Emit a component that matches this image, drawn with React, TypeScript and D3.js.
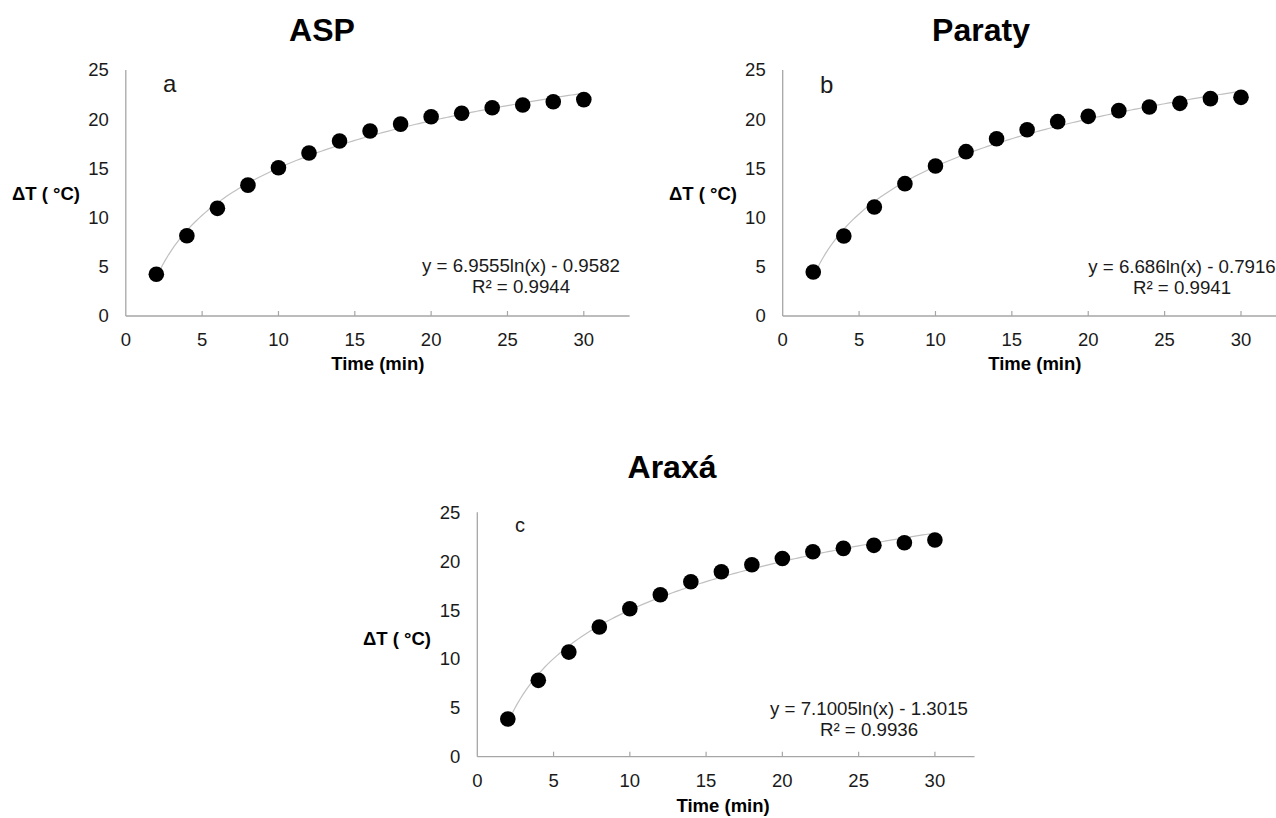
import React, { useEffect, useRef } from "react";
import * as d3 from "d3";

// ---- data ----
const timeMin = [2, 4, 6, 8, 10, 12, 14, 16, 18, 20, 22, 24, 26, 28, 30];
const aspValues = [4.24, 8.16, 10.94, 13.3, 15.07, 16.56, 17.78, 18.8, 19.5, 20.25, 20.6, 21.17, 21.44, 21.78, 21.99];
const paratyValues = [4.47, 8.13, 11.08, 13.45, 15.24, 16.7, 18.02, 18.93, 19.75, 20.29, 20.87, 21.24, 21.61, 22.09, 22.22];
const araxaValues = [3.85, 7.81, 10.7, 13.26, 15.14, 16.57, 17.9, 18.92, 19.63, 20.28, 20.96, 21.31, 21.62, 21.88, 22.16];
const panelTitles = ["ASP", "Paraty", "Araxá"];
const panelLetters = ["a", "b", "c"];
const equationTexts = ["y = 6.9555ln(x) - 0.9582", "y = 6.686ln(x) - 0.7916", "y = 7.1005ln(x) - 1.3015"];
const r2Texts = ["R² = 0.9944", "R² = 0.9941", "R² = 0.9936"];
const xTicks = [0, 5, 10, 15, 20, 25, 30];
const yTicks = [0, 5, 10, 15, 20, 25];
const xLabel = "Time (min)";
const yLabel = "ΔT ( °C)";

// ---- layout ----
const layouts = [
  { x0: 125.8, x30: 583.8, y0: 316, y25: 70, xEnd: 33, titleX: 322, titleY: 41, letterX: 163, letterY: 92, letterSize: 24, eqX: 521, eqY: 272, r2Y: 293, yLabX: 80, yLabY: 200, xLabY: 370 },
  { x0: 782.7, x30: 1241, y0: 316, y25: 70, xEnd: 33, titleX: 981, titleY: 41, letterX: 820, letterY: 93, letterSize: 24, eqX: 1182, eqY: 273, r2Y: 294, yLabX: 737, yLabY: 200, xLabY: 370 },
  { x0: 477.3, x30: 934.9, y0: 756.7, y25: 512.3, xEnd: 32.6, titleX: 672, titleY: 478, letterX: 515, letterY: 532, letterSize: 20, eqX: 869, eqY: 715, r2Y: 736, yLabX: 431, yLabY: 645, xLabY: 812 },
];

const FONT = "'Liberation Sans', Arial, Helvetica, sans-serif";
const AXIS = "#a6a6a6";

// least-squares logarithmic fit of the plotted points (y = a ln x + b)
function logFit(xs: number[], ys: number[]) {
  const lx = xs.map((v) => Math.log(v));
  const mx = d3.mean(lx) as number;
  const my = d3.mean(ys) as number;
  let num = 0, den = 0;
  lx.forEach((v, k) => { num += (v - mx) * (ys[k] - my); den += (v - mx) * (v - mx); });
  const a = num / den;
  return { a, b: my - a * mx };
}

export default function App() {
  const ref = useRef<SVGSVGElement>(null);

  useEffect(() => {
    const svg = d3.select(ref.current);
    svg.selectAll("*").remove();
    const series = [aspValues, paratyValues, araxaValues];

    series.forEach((vals, i) => {
      const L = layouts[i];
      const x = d3.scaleLinear().domain([0, 30]).range([L.x0, L.x30]);
      const y = d3.scaleLinear().domain([0, 25]).range([L.y0, L.y25]);
      const g = svg.append("g");

      g.append("text").attr("x", L.titleX).attr("y", L.titleY).attr("text-anchor", "middle")
        .attr("font-family", FONT).attr("font-weight", "bold").attr("font-size", 32).text(panelTitles[i]);

      g.append("line").attr("x1", x(0)).attr("x2", x(0)).attr("y1", y(0)).attr("y2", y(25))
        .attr("stroke", AXIS).attr("stroke-width", 1.3);
      g.append("line").attr("x1", x(0)).attr("x2", x(L.xEnd)).attr("y1", y(0)).attr("y2", y(0))
        .attr("stroke", AXIS).attr("stroke-width", 1.3);

      g.selectAll(".xt").data(xTicks.filter((t) => t > 0)).enter().append("line")
        .attr("x1", (d) => x(d)).attr("x2", (d) => x(d)).attr("y1", y(0)).attr("y2", y(0) - 5)
        .attr("stroke", AXIS).attr("stroke-width", 1.2);
      g.selectAll(".xl").data(xTicks).enter().append("text")
        .attr("x", (d) => x(d)).attr("y", y(0) + 30).attr("text-anchor", "middle")
        .attr("font-family", FONT).attr("font-size", 18.5).attr("fill", "#1a1a1a").text((d) => String(d));
      g.selectAll(".yl").data(yTicks).enter().append("text")
        .attr("x", x(0) - 17).attr("y", (d) => y(d)).attr("dy", "0.35em").attr("text-anchor", "end")
        .attr("font-family", FONT).attr("font-size", 18.5).attr("fill", "#1a1a1a").text((d) => String(d));

      g.append("text").attr("x", L.yLabX).attr("y", L.yLabY).attr("text-anchor", "end")
        .attr("font-family", FONT).attr("font-weight", "bold").attr("font-size", 18.5).text(yLabel);
      g.append("text").attr("x", (x(0) + x(30)) / 2 + (i === 2 ? 17 : 23)).attr("y", L.xLabY).attr("text-anchor", "middle")
        .attr("font-family", FONT).attr("font-weight", "bold").attr("font-size", 18.5).text(xLabel);

      g.append("text").attr("x", L.letterX).attr("y", L.letterY)
        .attr("font-family", FONT).attr("font-size", L.letterSize).attr("fill", "#1a1a1a").text(panelLetters[i]);

      // trendline
      const fit = logFit(timeMin, vals);
      const fx = d3.range(2, 30.001, 0.2);
      const line = d3.line<number>().x((d) => x(d)).y((d) => y(fit.a * Math.log(d) + fit.b));
      g.append("path").attr("d", line(fx) || "").attr("fill", "none").attr("stroke", "#c0c0c0").attr("stroke-width", 1.2);

      g.selectAll(".pt").data(vals).enter().append("circle")
        .attr("cx", (_d, k) => x(timeMin[k])).attr("cy", (d) => y(d)).attr("r", 7.8).attr("fill", "#000");

      g.append("text").attr("x", L.eqX).attr("y", L.eqY).attr("text-anchor", "middle")
        .attr("font-family", FONT).attr("font-size", 18.7).attr("fill", "#1a1a1a").text(equationTexts[i]);
      g.append("text").attr("x", L.eqX).attr("y", L.r2Y).attr("text-anchor", "middle")
        .attr("font-family", FONT).attr("font-size", 18.7).attr("fill", "#1a1a1a").text(r2Texts[i]);
    });
  }, []);

  return (
    <svg ref={ref} width={1276} height={818}
      style={{ position: "absolute", left: 0, top: 0, background: "#fff", display: "block" }} />
  );
}
